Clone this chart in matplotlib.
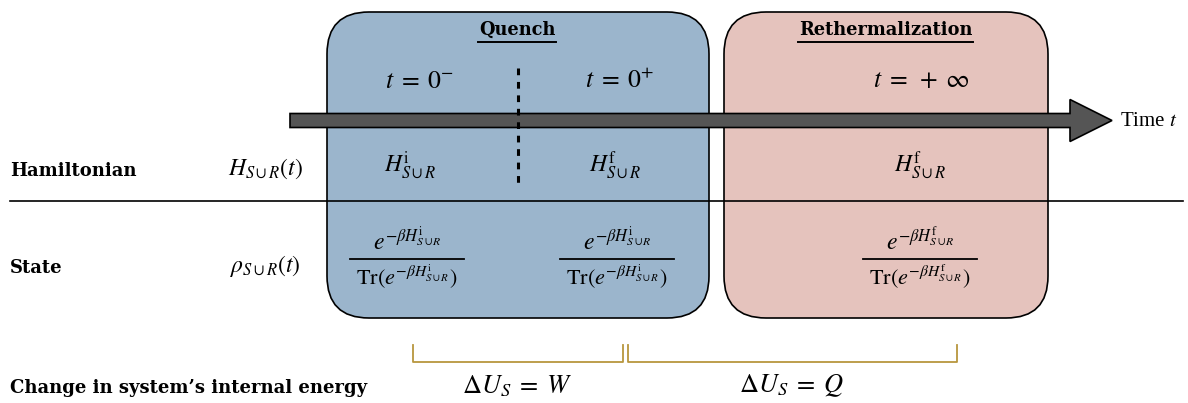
import matplotlib.pyplot as plt
from matplotlib.patches import FancyBboxPatch, FancyArrow

plt.rcParams['mathtext.fontset'] = 'stix'
plt.rcParams['font.family'] = 'DejaVu Serif'

# phases: title, x-range, colour
phases = ["Quench", "Rethermalization"]
phase_x = [(327, 709), (724, 1048)]
phase_colors = ["#9bb5cc", "#e5c3bd"]

# columns inside the boxes
col_x = [410, 615, 920]
times = [r"$t\;=\;0^{-}$", r"$t\;=\;0^{+}$", r"$t\;=\;+\;\infty$"]
time_x = [420, 620, 921]
hams = [r"$H^{\mathrm{i}}_{S\cup R}$", r"$H^{\mathrm{f}}_{S\cup R}$", r"$H^{\mathrm{f}}_{S\cup R}$"]
states_num = [r"$e^{-\beta H^{\mathrm{i}}_{S\cup R}}$",
              r"$e^{-\beta H^{\mathrm{i}}_{S\cup R}}$",
              r"$e^{-\beta H^{\mathrm{f}}_{S\cup R}}$"]
states_den = [r"$\mathrm{Tr}(e^{-\beta H^{\mathrm{i}}_{S\cup R}})$",
              r"$\mathrm{Tr}(e^{-\beta H^{\mathrm{i}}_{S\cup R}})$",
              r"$\mathrm{Tr}(e^{-\beta H^{\mathrm{f}}_{S\cup R}})$"]
state_x = [407, 617, 920]

row_labels = ["Hamiltonian", "State", "Change in system\u2019s internal energy"]
row_syms = [r"$H_{S\cup R}(t)$", r"$\rho_{S\cup R}(t)$"]
row_y = [171, 268, 388]

energy = [r"$\Delta U_S\;=\;W$", r"$\Delta U_S\;=\;Q$"]
bracket_x = [(413, 623), (628, 957)]

fig = plt.figure(figsize=(11.88, 4.03), dpi=100)
ax = fig.add_axes([0, 0, 1, 1])
ax.set_xlim(0, 1188)
ax.set_ylim(403, 0)
ax.axis('off')

for name, (x0, x1), c in zip(phases, phase_x, phase_colors):
    box = FancyBboxPatch((x0, 12), x1 - x0, 306,
                         boxstyle="round,pad=0,rounding_size=42",
                         fc=c, ec='black', lw=1.2, zorder=1)
    ax.add_patch(box)
    xc = (x0 + x1) / 2 + (-1 if name == "Quench" else -0.5)
    t = ax.text(xc, 30, name, ha='center', va='center', fontsize=12.8,
                fontweight='bold', zorder=5)
    fig.canvas.draw()
    bb = t.get_window_extent().transformed(ax.transData.inverted())
    ax.plot([bb.x0 - 1, bb.x1 + 1], [42, 42], color='black', lw=1.4, zorder=5)

# time arrow
ax.add_patch(FancyArrow(290, 120.5, 822, 0, width=14, head_width=42,
                        head_length=42, length_includes_head=True,
                        fc='#555555', ec='black', lw=1.2, zorder=3))
ax.text(1120, 122, r"Time $t$", ha='left', va='center', fontsize=15,
        family='Liberation Serif', zorder=5)

# quench instant
ax.plot([518, 518], [68, 186], color='black', lw=2.2, ls=(0, (2.2, 2.2)), zorder=4)

for x, s in zip(time_x, times):
    ax.text(x, 80, s, ha='center', va='center', fontsize=18.5, zorder=5)

# separator
ax.plot([10, 1183], [201, 201], color='black', lw=1.2, zorder=4)

for lab, y in zip(row_labels, row_y):
    ax.text(10, y, lab, ha='left', va='center', fontsize=13,
            fontweight='bold', zorder=5)
for sym, y in zip(row_syms, row_y[:2]):
    ax.text(265, y - 2, sym, ha='center', va='center', fontsize=17, zorder=5)

for x, h in zip(col_x, hams):
    ax.text(x, 165, h, ha='center', va='center', fontsize=17, zorder=5)

for x, n, d in zip(state_x, states_num, states_den):
    ax.text(x, 241, n, ha='center', va='center', fontsize=17, zorder=5)
    ax.plot([x - 57, x + 57], [259, 259], color='black', lw=1.3, zorder=5)
    ax.text(x, 277, d, ha='center', va='center', fontsize=16, zorder=5)

for (x0, x1), e in zip(bracket_x, energy):
    ax.plot([x0, x0, x1, x1], [345, 362, 362, 345], color='#b8963e',
            lw=1.3, zorder=4)
    ax.text((x0 + x1) / 2 - 1, 386, e, ha='center', va='center',
            fontsize=19, zorder=5)

fig.savefig("out.png", dpi=100)
